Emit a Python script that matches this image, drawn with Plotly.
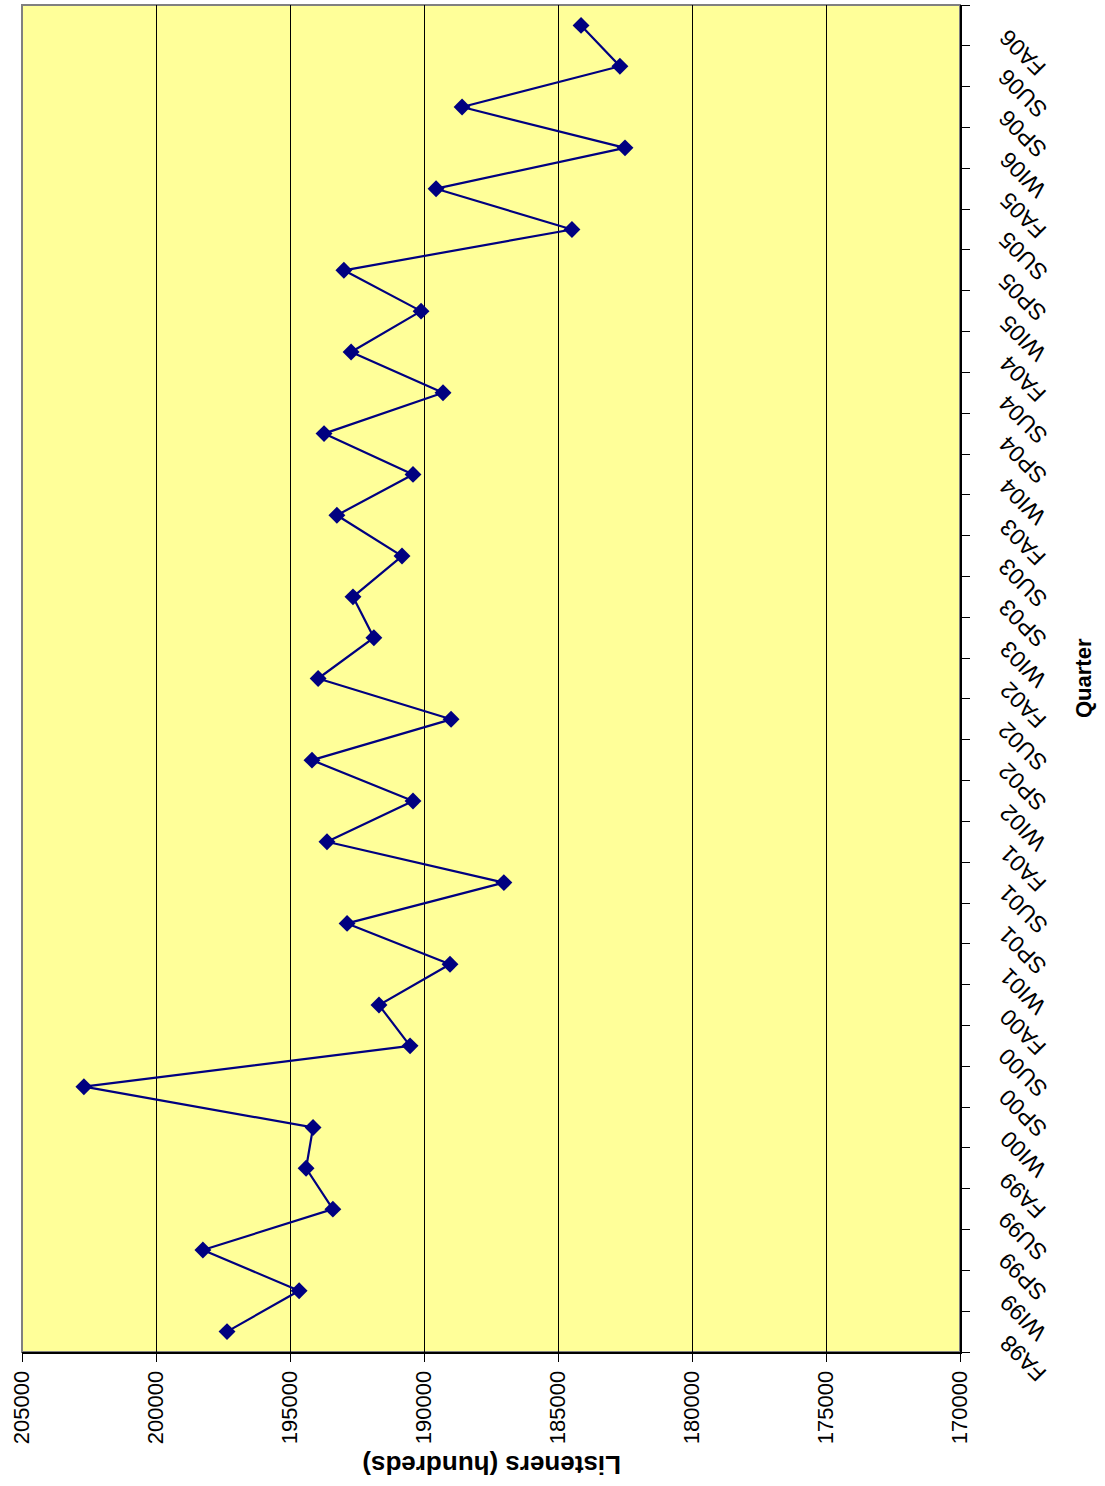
import plotly.graph_objects as go

quarters = ["FA98", "WI99", "SP99", "SU99", "FA99", "WI00", "SP00", "SU00", "FA00",
            "WI01", "SP01", "SU01", "FA01", "WI02", "SP02", "SU02", "FA02",
            "WI03", "SP03", "SU03", "FA03", "WI04", "SP04", "SU04", "FA04",
            "WI05", "SP05", "SU05", "FA05", "WI06", "SP06", "SU06", "FA06"]
listeners = [197350, 194660, 198250, 193400, 194400, 194140, 202690, 190520, 191680,
             189030, 192870, 187020, 193620, 190410, 194180, 188990, 193950,
             191870, 192650, 190820, 193250, 190410, 193730, 189290, 192720,
             190110, 192990, 184480, 189550, 182500, 188580, 182690, 184140]
value_ticks = [205000, 200000, 195000, 190000, 185000, 180000, 175000, 170000]

FONT = "Arial, Liberation Sans, sans-serif"
NAVY = "#000080"

fig = go.Figure()
fig.add_trace(go.Scatter(
    x=listeners, y=quarters, mode="lines+markers",
    line=dict(color=NAVY, width=2.2),
    marker=dict(symbol="diamond", size=13, color=NAVY),
    showlegend=False,
))

annotations = [
    dict(text=q, xref="paper", yref="y", x=1.067, y=q,
         xanchor="center", yanchor="middle", yshift=-27,
         textangle=-135, showarrow=False,
         font=dict(family=FONT, size=23, color="black"))
    for q in quarters
]
annotations += [
    dict(text="<b>Listeners (hundreds)</b>", xref="paper", yref="paper",
         x=(492 - 22) / 938, y=-(1465 - 1352) / 1347, xanchor="center", yanchor="middle",
         textangle=180, showarrow=False, font=dict(family=FONT, size=26)),
    dict(text="<b>Quarter</b>", xref="paper", yref="paper",
         x=(1083 - 22) / 938, y=(1352 - 678) / 1347, xanchor="center", yanchor="middle",
         textangle=-90, showarrow=False, font=dict(family=FONT, size=22)),
]

fig.update_layout(
    width=1105, height=1486,
    margin=dict(l=22, r=145, t=5, b=134, autoexpand=False),
    paper_bgcolor="white",
    plot_bgcolor="#FFFF99",
    font=dict(family=FONT, color="black", size=22),
    xaxis=dict(
        range=[205000, 170000],
        tickvals=value_ticks,
        ticktext=[str(v) for v in value_ticks],
        tickangle=-90,
        automargin=False,
        showgrid=True, gridcolor="black", gridwidth=1,
        zeroline=False,
        showline=True, linecolor="black", linewidth=2,
        ticks="outside", ticklen=8, tickcolor="black",
        tickfont=dict(family=FONT, size=22),
    ),
    yaxis=dict(
        type="category",
        categoryorder="array", categoryarray=quarters,
        range=[-0.5, len(quarters) - 0.5],
        side="right",
        automargin=False,
        showticklabels=False,
        tickson="boundaries",
        showgrid=False, zeroline=False,
        showline=True, linecolor="black", linewidth=2,
        ticks="outside", ticklen=8, tickcolor="black",
    ),
    shapes=[dict(type="rect", xref="paper", yref="paper", x0=0, x1=1, y0=0, y1=1,
                 line=dict(color="#808080", width=2), layer="below")],
    annotations=annotations,
)

fig.write_html("out.html")
